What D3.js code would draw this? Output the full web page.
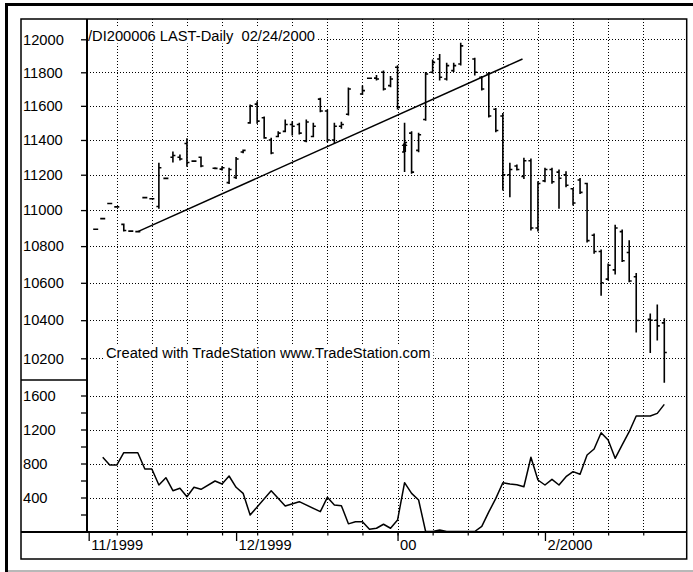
<!DOCTYPE html>
<html>
<head>
<meta charset="utf-8">
<script src="https://cdn.jsdelivr.net/npm/d3@7"></script>
<style>
  html, body { margin: 0; padding: 0; background: #fff; }
  svg { display: block; }
  text { font-family: "Liberation Sans", Arial, Helvetica, sans-serif; fill: #000; white-space: pre; }
</style>
</head>
<body>
<svg id="chart" width="693" height="572"></svg>
<script>
// DI200006 (Dow futures, June 2000 contract), daily bars 11/1999 - 02/24/2000.
// One entry per trading day; null = no bar printed that day.
const opens  = [10893,10952,11037,11018,10920,10883,10880,11070,11064,11020,11179,11300,11300,11380,11278,11300,null,11237,11232,11155,11185,11330,11500,11610,11530,11400,11420,11450,11490,11490,11395,11420,11640,11570,11400,11480,11550,null,11670,11764,11765,11800,11720,11830,11330,11440,11340,11520,11800,11880,11760,11810,11850,null,11880,11770,11790,11580,11540,11200,11250,11190,11280,10900,11165,11230,11215,11200,11120,11170,11150,10860,10770,10620,10670,10880,10765,10633,null,10405,10400,10386];
const highs  = [10893,10952,11037,11018,10922,10883,10880,11070,11064,11265,11179,11330,11313,11407,11278,11301,null,11240,11245,11237,11299,11342,11605,11624,11534,11410,11448,11517,11507,11497,11517,11497,11645,11575,11497,11503,11706,null,11718,11766,11780,11808,11774,11840,11497,11448,11439,11798,11874,11908,11854,11854,11976,null,11884,11774,11798,11585,11555,11265,11255,11294,11290,11160,11237,11237,11227,11217,11122,11179,11151,10867,10779,10702,10916,10889,10830,10651,null,10433,10481,10407];
const lows   = [10893,10952,11037,11018,10884,10883,10880,11070,11064,11010,11179,11273,11284,11249,11278,11246,null,11234,11227,11150,11179,11326,11498,11498,11410,11320,11419,11448,11429,11435,11390,11419,11565,11390,11380,11468,11546,null,11667,11762,11754,11694,11714,11581,11218,11209,11332,11515,11795,11754,11754,11804,11844,null,11784,11694,11534,11448,11113,11075,11227,11179,10889,10883,11160,11151,11010,11132,11029,11094,10823,10761,10533,10615,10648,10715,10606,10338,null,10230,10296,10076];
const closes = [10893,10952,11037,11018,10886,10883,10880,11070,11064,11240,11179,11310,11290,11270,11278,11250,null,11236,11240,11230,11290,11340,11600,11510,11412,11325,11440,11490,11480,11440,11505,11480,11570,11400,11480,11490,11700,null,11690,11764,11760,11700,11760,11590,11385,11215,11430,11790,11860,11770,11840,11840,11960,null,11800,11700,11540,11455,11200,11230,11230,11280,10900,11150,11230,11160,11180,11140,11040,11100,10830,10770,10600,10695,10900,10720,10610,10398,null,10400,10370,10230];

// Daily volume (contracts); null where no value is plotted
const volumes = [null,873,782,782,927,927,927,735,735,547,633,480,508,409,520,496,null,594,559,653,520,449,194,null,null,480,null,300,null,351,null,null,233,402,312,304,90,115,115,26,38,85,38,135,574,449,371,0,0,18,0,0,0,0,0,60,230,390,574,560,550,527,873,606,547,614,547,645,704,673,900,971,1162,1076,861,1018,1174,1359,1359,1359,1390,1496];

// Month boundaries (bar index) and their labels
const monthTickIndex  = [-1, 20, 43, 64];
const monthTickLabels = ["11/1999", "12/1999", "00", "2/2000"];
// Weekly grid lines (bar index)
const weekGridIndex = [3, 8, 13, 18, 23, 28, 33, 38, 43, 48, 53, 58, 63, 68, 73, 78];

const priceTicks = [12000, 11800, 11600, 11400, 11200, 11000, 10800, 10600, 10400, 10200];
const volumeTicks = [400, 800, 1200, 1600];
const volumeMinorTicks = [200, 600, 1000, 1400];

// Trend line drawn from the November low through the December highs
const trendIndex = [6, 60.8];
const trendPrice = [10880, 11880];

// Bars flagged with an up-arrow marker (open -> close)
const arrowBars = [44];

const titleText = "/DI200006 LAST-Daily  02/24/2000";
const creditText = "Created with TradeStation www.TradeStation.com";

// ---- layout ----
const frame = { left: 21, right: 686.7, top: 19, bottom: 559 };
const axisX = 87;          // y-axis line
const axisY = 532;         // date axis line
const splitY = 380;        // border between price and volume panes
const FONT = 14.7;

const svg = d3.select("#chart");

const x = d3.scaleLinear().domain([0, 81]).range([95.7, 664.3]);
const yPrice = d3.scaleLog().domain([10200, 12000]).range([358.3, 39.3]);
const yVol = d3.scaleLinear().domain([0, 1600]).range([531.5, 395.5]);

// window border
svg.append("rect").attr("x", 0).attr("y", 0).attr("width", 693).attr("height", 572).attr("fill", "#fff");
svg.append("line").attr("x1", 5).attr("x2", 693).attr("y1", 4.5).attr("y2", 4.5)
  .attr("stroke", "#000").attr("stroke-width", 3);
svg.append("line").attr("x1", 6.5).attr("x2", 6.5).attr("y1", 3).attr("y2", 572)
  .attr("stroke", "#000").attr("stroke-width", 3);
svg.append("line").attr("x1", 8).attr("x2", 693).attr("y1", 571).attr("y2", 571)
  .attr("stroke", "#b8b8b8").attr("stroke-width", 2);

// ---- dotted grid ----
const grid = svg.append("g").attr("stroke", "#000").attr("stroke-width", 1)
  .attr("stroke-dasharray", "1,2").attr("fill", "none");
grid.selectAll(".vg").data(weekGridIndex).join("line")
  .attr("x1", d => Math.round(x(d)) + 0.5).attr("x2", d => Math.round(x(d)) + 0.5)
  .attr("y1", frame.top).attr("y2", axisY);
grid.selectAll(".hp").data(priceTicks).join("line")
  .attr("x1", axisX).attr("x2", frame.right)
  .attr("y1", d => Math.round(yPrice(d)) + 0.5).attr("y2", d => Math.round(yPrice(d)) + 0.5);
grid.selectAll(".hv").data(volumeTicks).join("line")
  .attr("x1", axisX).attr("x2", frame.right)
  .attr("y1", d => Math.round(yVol(d)) + 0.5).attr("y2", d => Math.round(yVol(d)) + 0.5);

// ---- texts with white backing ----
function boxedText(str, tx, ty) {
  const g = svg.append("g");
  const r = g.append("rect").attr("fill", "#fff");
  const t = g.append("text").attr("x", tx).attr("y", ty).attr("font-size", FONT)
    .attr("xml:space", "preserve").text(str);
  const bb = t.node().getBBox();
  r.attr("x", bb.x - 2).attr("y", bb.y).attr("width", bb.width + 5).attr("height", bb.height);
}
boxedText(titleText, 88, 40.5);
boxedText(creditText, 106, 358);

// ---- trend line ----
svg.append("line")
  .attr("x1", x(trendIndex[0])).attr("y1", yPrice(trendPrice[0]))
  .attr("x2", x(trendIndex[1])).attr("y2", yPrice(trendPrice[1]))
  .attr("stroke", "#000").attr("stroke-width", 1.5);

// ---- OHLC bars ----
const bars = opens.map((o, i) => ({ i, o, h: highs[i], l: lows[i], c: closes[i] }))
  .filter(d => d.o != null);
const tick = 2.5;
svg.append("g").attr("stroke", "#000").attr("stroke-width", 1.6).attr("fill", "none")
  .selectAll("path").data(bars).join("path")
  .attr("d", d => {
    const cx = x(d.i);
    return `M${cx},${yPrice(d.h) - 0.5}V${yPrice(d.l) + 0.5}` +
           `M${cx - tick},${yPrice(d.o)}H${cx}` +
           `M${cx},${yPrice(d.c)}H${cx + tick}`;
  });

// up-arrow markers
svg.append("g").selectAll("path").data(arrowBars).join("path")
  .attr("fill", "#000")
  .attr("d", i => {
    const cx = x(i), y0 = yPrice(opens[i]), y1 = yPrice(closes[i]);
    return `M${cx - 1.5},${y0}V${y1 + 3.5}H${cx - 3}L${cx},${y1 - 0.5}L${cx + 3},${y1 + 3.5}H${cx + 1.5}V${y0}Z`;
  });

// ---- volume line ----
const volPts = volumes.map((v, i) => ({ i, v })).filter(d => d.v != null);
svg.append("path").datum(volPts)
  .attr("fill", "none").attr("stroke", "#000").attr("stroke-width", 1.5)
  .attr("stroke-linejoin", "round")
  .attr("d", d3.line().x(d => x(d.i)).y(d => yVol(d.v)));

// ---- axes ----
function styleYAxis(g) {
  g.select(".domain").remove();
  g.selectAll(".tick line").attr("stroke", "#000").attr("stroke-width", 1.3);
  g.selectAll(".tick text")
    .attr("x", 23 - axisX).attr("text-anchor", "start")
    .attr("font-size", FONT).attr("font-family", null).attr("fill", "#000");
}
svg.append("g").attr("transform", `translate(${axisX},0)`)
  .call(d3.axisLeft(yPrice).tickValues(priceTicks).tickSize(6).tickPadding(0).tickFormat(d3.format("d")))
  .call(styleYAxis);
svg.append("g").attr("transform", `translate(${axisX},0)`)
  .call(d3.axisLeft(yVol).tickValues(volumeTicks).tickSize(6).tickPadding(0).tickFormat(d3.format("d")))
  .call(styleYAxis);
svg.append("g").attr("transform", `translate(${axisX},0)`)
  .call(d3.axisLeft(yVol).tickValues(volumeMinorTicks).tickSize(6).tickFormat(""))
  .call(styleYAxis);

// weekly ticks under the date axis
svg.append("g").attr("transform", `translate(0,${axisY})`)
  .call(d3.axisBottom(x).tickValues(weekGridIndex).tickSize(3.5).tickFormat(""))
  .call(g => { g.select(".domain").remove(); g.selectAll(".tick line").attr("stroke", "#000").attr("stroke-width", 1.2); });

// month ticks and labels
svg.append("g").attr("transform", `translate(0,${axisY})`)
  .call(d3.axisBottom(x).tickValues(monthTickIndex).tickSize(9)
    .tickFormat((d, k) => monthTickLabels[k]))
  .call(g => {
    g.select(".domain").remove();
    g.selectAll(".tick line").attr("stroke", "#000").attr("stroke-width", 1.3);
    g.selectAll(".tick text").attr("x", 2).attr("y", 17.5).attr("dy", null)
      .attr("text-anchor", "start").attr("font-size", FONT)
      .attr("font-family", null).attr("fill", "#000");
  });

// ---- frame and axis lines ----
svg.append("rect")
  .attr("x", frame.left).attr("y", frame.top)
  .attr("width", frame.right - frame.left).attr("height", frame.bottom - frame.top)
  .attr("fill", "none").attr("stroke", "#000").attr("stroke-width", 1.5);
svg.append("line").attr("x1", axisX).attr("x2", axisX).attr("y1", frame.top).attr("y2", axisY)
  .attr("stroke", "#000").attr("stroke-width", 2);
svg.append("line").attr("x1", frame.left).attr("x2", frame.right).attr("y1", axisY).attr("y2", axisY)
  .attr("stroke", "#000").attr("stroke-width", 2);
svg.append("line").attr("x1", frame.left).attr("x2", axisX).attr("y1", splitY).attr("y2", splitY)
  .attr("stroke", "#000").attr("stroke-width", 1.5);
</script>
</body>
</html>
